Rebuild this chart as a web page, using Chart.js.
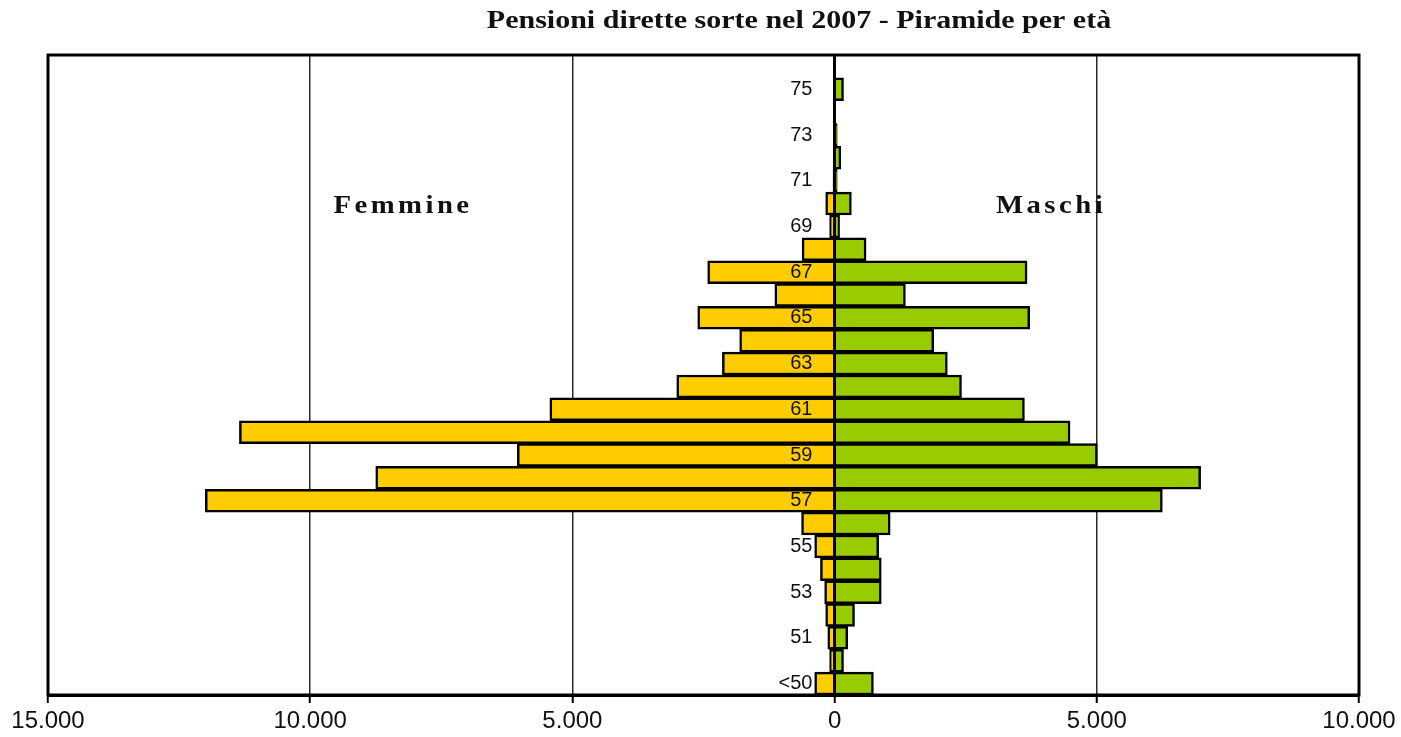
<!DOCTYPE html>
<html>
<head>
<meta charset="utf-8">
<script src="https://cdn.jsdelivr.net/npm/chart.js@4.4.0/dist/chart.umd.min.js"></script>
<style>
  body { margin: 0; background: #fff; }
  #wrap { width: 1401px; height: 737px; position: relative; }
</style>
</head>
<body>
<div id="wrap"><canvas id="piramide"></canvas></div>
<script>
// eta' (dal basso verso l'alto)
var etaLabels = ['<50', '50', '51', '52', '53', '54', '55', '56', '57', '58', '59', '60', '61', '62',
                 '63', '64', '65', '66', '67', '68', '69', '70', '71', '72', '73', '74', '75'];
// pensioni femmine
var femmine = [380, 95, 130, 170, 190, 270, 380, 630, 12000, 8750, 6050, 11350, 5430, 3010,
               2140, 1810, 2610, 1140, 2420, 620, 95, 170, 30, 20, 20, 0, 0];
// pensioni maschi
var maschi = [740, 170, 250, 380, 890, 890, 840, 1060, 6250, 6980, 5010, 4490, 3620, 2420,
              2150, 1890, 3720, 1350, 3670, 600, 95, 320, 50, 120, 50, 0, 170];
var xTicks = [-15000, -10000, -5000, 0, 5000, 10000];
var titolo = 'Pensioni dirette sorte nel 2007 - Piramide per età';

function formatNum(v) {
    return String(Math.abs(v)).replace(/\B(?=(\d{3})+(?!\d))/g, '.');
}

function scritta(ctx, testo, x, y, font, stretch, spacing) {
    ctx.save();
    ctx.translate(x, y);
    ctx.scale(stretch, 1);
    ctx.font = font;
    ctx.letterSpacing = spacing;
    ctx.fillText(testo, 0, 0);
    ctx.restore();
}

/* scritte e cornice disegnate sopra il grafico */
var decorazioni = {
    id: 'decorazioni',
    afterDraw: function(chart) {
        var ctx = chart.ctx;
        var area = chart.chartArea;
        ctx.save();
        ctx.strokeStyle = '#000';
        ctx.lineWidth = 3;
        ctx.strokeRect(area.left, area.top, area.right - area.left, area.bottom - area.top);
        ctx.fillStyle = '#111';
        ctx.textAlign = 'center';
        ctx.textBaseline = 'alphabetic';
        scritta(ctx, titolo, 799, 28, 'bold 25px "Liberation Serif"', 1.2, '0px');
        scritta(ctx, 'Femmine', 403, 213, 'bold 25px "Liberation Serif"', 1.15, '3px');
        scritta(ctx, 'Maschi', 1051, 213, 'bold 25px "Liberation Serif"', 1.15, '3px');
        ctx.restore();
    }
};

var ctxPiramide = document.getElementById('piramide');
var myChart = new Chart(ctxPiramide, {
    type: 'bar',
    data: {
        // riga vuota sopra i 75 anni, come nell'originale
        labels: etaLabels.concat(['']),
        datasets: [{
            label: 'Femmine',
            data: femmine.map(function(v) { return -v; }),
            backgroundColor: '#FFCC00',
            borderColor: '#000',
            borderWidth: 2.5,
            borderSkipped: 'start',
            categoryPercentage: 1,
            barPercentage: 1
        }, {
            label: 'Maschi',
            data: maschi,
            backgroundColor: '#99CC00',
            borderColor: '#000',
            borderWidth: 2.5,
            borderSkipped: 'start',
            categoryPercentage: 1,
            barPercentage: 1
        }]
    },
    options: {
        indexAxis: 'y',
        responsive: true,
        maintainAspectRatio: false,
        animation: false,
        layout: { padding: { top: 55, left: 48, right: 42, bottom: 0 } },
        plugins: {
            legend: { display: false },
            title: { display: false },
            tooltip: { enabled: false }
        },
        scales: {
            x: {
                stacked: true,
                min: -15000,
                max: 10000,
                afterBuildTicks: function(scale) {
                    scale.ticks = xTicks.map(function(v) { return { value: v }; });
                },
                afterFit: function(scale) { scale.height = 42; },
                grid: {
                    color: function(c) {
                        if (c.tick && c.tick.value === 0) return 'rgba(0,0,0,0)';
                        return '#2a2a2a';
                    },
                    lineWidth: 1.5,
                    tickLength: 8,
                    tickColor: '#000',
                    tickWidth: 2
                },
                border: { display: true, color: '#000', width: 3 },
                ticks: {
                    color: '#111',
                    padding: 4,
                    font: { family: '"Liberation Sans"', size: 24 },
                    callback: function(v) { return formatNum(v); }
                }
            },
            y: {
                stacked: true,
                reverse: true,
                position: { x: 0 },
                grid: { color: 'rgba(0,0,0,0)', drawTicks: false },
                border: { display: true, color: '#000', width: 3, z: 2 },
                ticks: {
                    z: 2,
                    autoSkip: false,
                    color: '#111',
                    font: { family: '"Liberation Sans"', size: 20 },
                    callback: function(v, i) {
                        return (i % 2 === 0 && etaLabels[i]) ? etaLabels[i] + '\u00a0\u00a0\u00a0\u00a0' : '';
                    }
                }
            }
        }
    },
    plugins: [decorazioni]
});
</script>
</body>
</html>
